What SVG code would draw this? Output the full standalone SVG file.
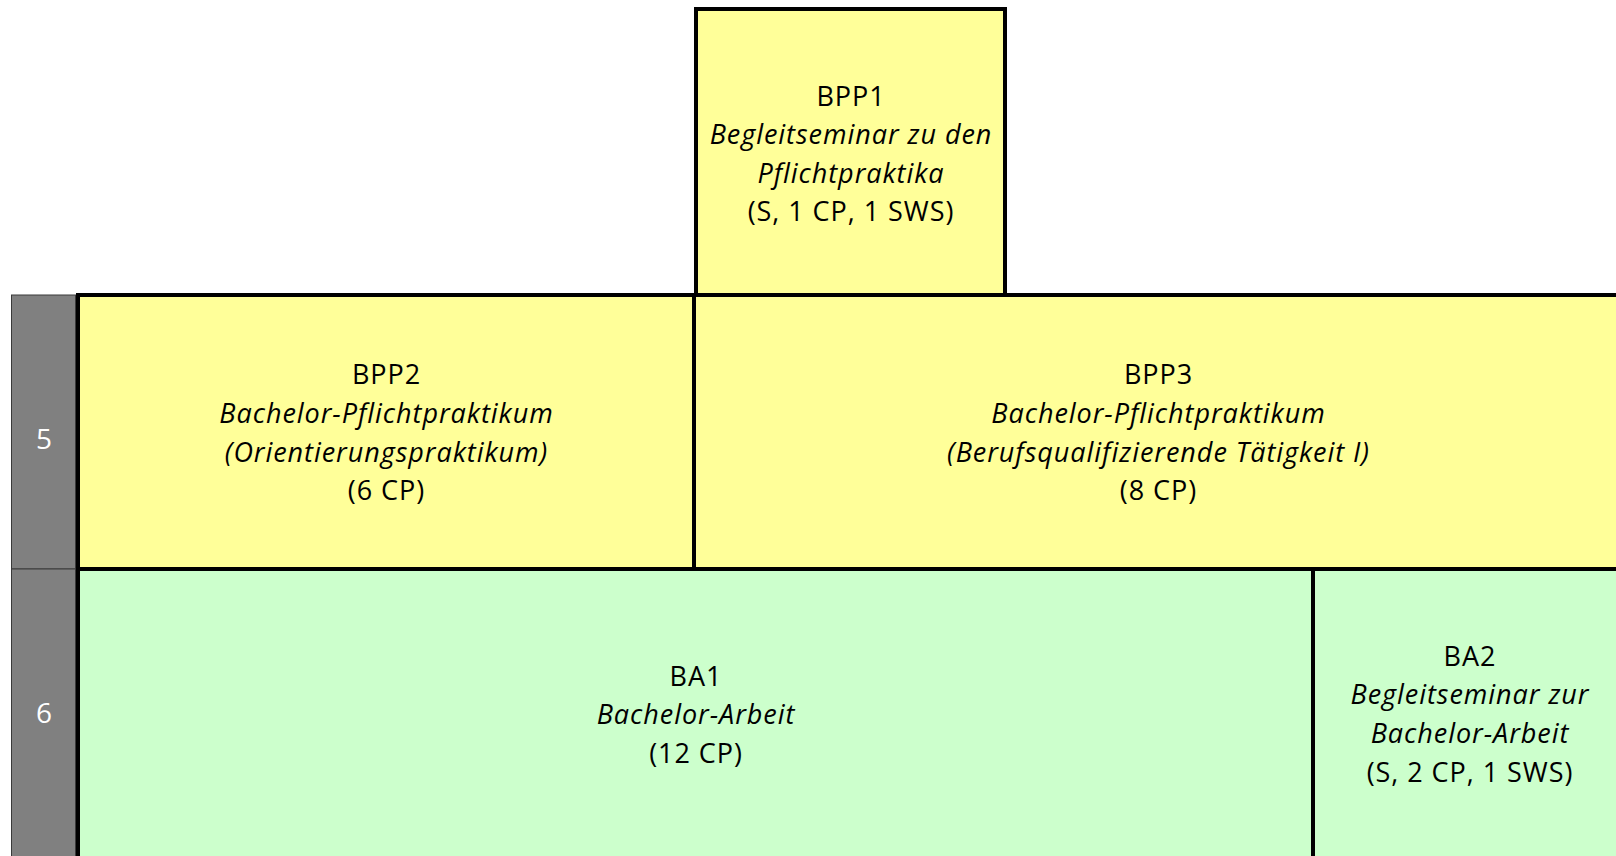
<svg xmlns="http://www.w3.org/2000/svg" width="1616" height="856" viewBox="0 0 1616 856">
<style>
.bg{fill:#ffffff}
.sem{fill:#808080;stroke:#3a3a3a;stroke-width:1}
.semt{font-family:"Open Sans",sans-serif;font-size:28px;fill:#ffffff;text-anchor:middle}
.y{fill:#ffff99;stroke:#000;stroke-width:4}
.g{fill:#ccffcc;stroke:#000;stroke-width:4}
.t{font-family:"Open Sans",sans-serif;font-size:27px;letter-spacing:0.95px;fill:#000;text-anchor:middle}
.i{font-style:italic}
</style>
<rect class="bg" x="0" y="0" width="1616" height="856"/>
<g id="sem5">
<rect class="sem" x="11.5" y="295" width="64" height="274"/>
<text class="semt" x="44" y="449">5</text>
</g>
<g id="sem6">
<rect class="sem" x="11.5" y="569" width="64" height="300"/>
<text class="semt" x="44" y="723">6</text>
</g>
<g id="BPP1">
<rect class="y" x="696" y="9" width="309" height="286"/>
<text class="t" x="851" y="106">BPP1</text>
<text class="t i" x="851" y="144">Begleitseminar zu den</text>
<text class="t i" x="851" y="182.5">Pflichtpraktika</text>
<text class="t" x="851" y="220.5">(S, 1 CP, 1 SWS)</text>
</g>
<g id="BPP2">
<rect class="y" x="78" y="295" width="616" height="274"/>
<text class="t" x="386.5" y="383.5">BPP2</text>
<text class="t i" x="386.5" y="422.5">Bachelor-Pflichtpraktikum</text>
<text class="t i" x="386.5" y="461.5">(Orientierungspraktikum)</text>
<text class="t" x="386.5" y="500">(6 CP)</text>
</g>
<g id="BPP3">
<rect class="y" x="694" y="295" width="928" height="274"/>
<text class="t" x="1158.5" y="383.5">BPP3</text>
<text class="t i" x="1158.5" y="422.5">Bachelor-Pflichtpraktikum</text>
<text class="t i" x="1158.5" y="461.5">(Berufsqualifizierende Tätigkeit I)</text>
<text class="t" x="1158.5" y="500">(8 CP)</text>
</g>
<g id="BA1">
<rect class="g" x="78" y="569" width="1235" height="300"/>
<text class="t" x="696" y="685.5">BA1</text>
<text class="t i" x="696" y="724">Bachelor-Arbeit</text>
<text class="t" x="696" y="762.5">(12 CP)</text>
</g>
<g id="BA2">
<rect class="g" x="1313" y="569" width="310" height="300"/>
<text class="t" x="1470" y="666">BA2</text>
<text class="t i" x="1470" y="704">Begleitseminar zur</text>
<text class="t i" x="1470" y="742.5">Bachelor-Arbeit</text>
<text class="t" x="1470" y="781.5">(S, 2 CP, 1 SWS)</text>
</g>
<g id="connectors"></g>
</svg>
